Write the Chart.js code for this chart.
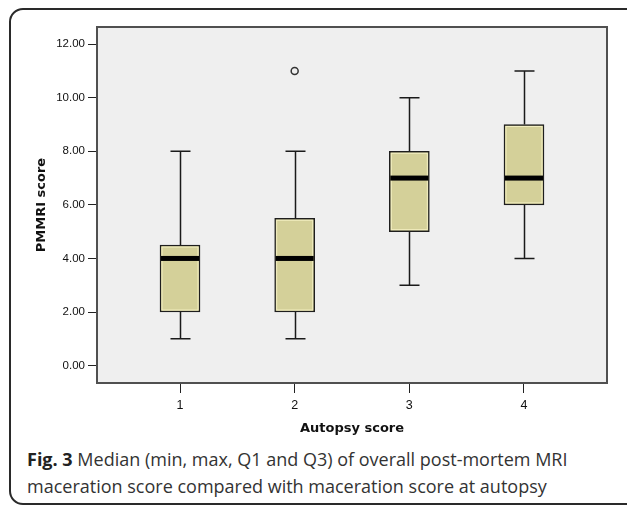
<!DOCTYPE html>
<html><head><meta charset="utf-8">
<script src="https://cdn.jsdelivr.net/npm/chart.js@4.4.1/dist/chart.umd.min.js"></script>
<style>
html,body{margin:0;padding:0;background:#fff;width:627px;height:507px;overflow:hidden;}
#frame{position:absolute;left:9px;top:8px;width:640px;height:497px;border:2px solid #2a2a2a;border-radius:14px;box-sizing:border-box;}
#wrap{position:absolute;left:0;top:0;width:627px;height:507px;}
#cap{position:absolute;left:27px;top:446px;font-family:"Open Sans";font-size:18px;line-height:27px;color:#333;white-space:nowrap;}
#cap b{color:#222;font-weight:700;}
</style></head><body>
<div id="frame"></div>
<div id="cap"><b>Fig. 3</b> Median (min, max, Q1 and Q3) of overall post-mortem MRI<br>maceration score compared with maceration score at autopsy</div>
<div id="wrap"><canvas id="c" width="627" height="507"></canvas></div>
<script>
const categories = ['1', '2', '3', '4'];
const catPositions = [1, 2, 3, 4];
const mins = [1, 1, 3, 4];
const q1s = [2, 2, 5, 6];
const medians = [4, 4, 7, 7];
const q3s = [4.5, 5.5, 8, 9];
const maxs = [8, 8, 10, 11];
const outlierCats = [2];
const outlierValues = [11];
const yTicks = [0, 2, 4, 6, 8, 10, 12];

const BOX_W = 40, CAP_W = 20;

const boxPlugin = {
  id: 'boxplot',
  beforeDraw(chart) {
    const {ctx, chartArea: a} = chart;
    ctx.save();
    ctx.fillStyle = '#efefef';
    ctx.fillRect(a.left, a.top, a.right - a.left, a.bottom - a.top);
    ctx.restore();
  },
  beforeDatasetsDraw(chart) {
    const {ctx, scales: {x, y}} = chart;
    ctx.save();
    ctx.strokeStyle = '#1a1a1a';
    ctx.lineWidth = 1.5;
    catPositions.forEach((c, i) => {
      const px = Math.round(x.getPixelForValue(c)) + 0.5;
      const yMax = y.getPixelForValue(maxs[i]);
      const yQ3 = y.getPixelForValue(q3s[i]);
      const yQ1 = y.getPixelForValue(q1s[i]);
      const yMin = y.getPixelForValue(mins[i]);
      ctx.beginPath();
      ctx.moveTo(px, yMax); ctx.lineTo(px, yQ3);
      ctx.moveTo(px, yQ1); ctx.lineTo(px, yMin);
      ctx.moveTo(px - CAP_W / 2, yMax); ctx.lineTo(px + CAP_W / 2, yMax);
      ctx.moveTo(px - CAP_W / 2, yMin); ctx.lineTo(px + CAP_W / 2, yMin);
      ctx.stroke();
    });
    ctx.restore();
  },
  afterDatasetsDraw(chart) {
    const {ctx, chartArea: a, scales: {x, y}} = chart;
    ctx.save();
    catPositions.forEach((c, i) => {
      const px = x.getPixelForValue(c);
      const yQ3 = y.getPixelForValue(q3s[i]);
      const yQ1 = y.getPixelForValue(q1s[i]);
      const yMed = y.getPixelForValue(medians[i]);
      ctx.strokeStyle = '#f2eec0';
      ctx.lineWidth = 1;
      ctx.strokeRect(px - BOX_W / 2 + 2, yQ3 + 2, BOX_W - 4, yQ1 - yQ3 - 4);
      ctx.fillStyle = '#000';
      ctx.fillRect(px - BOX_W / 2 + 1, yMed - 2.5, BOX_W - 2, 5);
    });
    ctx.strokeStyle = '#505050';
    ctx.lineWidth = 2;
    ctx.strokeRect(a.left, a.top, a.right - a.left, a.bottom - a.top);
    ctx.restore();
  }
};

new Chart(document.getElementById('c'), {
  type: 'bar',
  data: {
    datasets: [
      {
        type: 'bar',
        data: catPositions.map((c, i) => ({x: c, y: [q1s[i], q3s[i]]})),
        backgroundColor: '#d4d099',
        borderColor: '#1e1e1e',
        borderWidth: 1.5,
        borderSkipped: false,
        barThickness: BOX_W
      },
      {
        type: 'scatter',
        data: outlierCats.map((c, i) => ({x: c, y: outlierValues[i]})),
        pointRadius: 3.5,
        pointStyle: 'circle',
        borderColor: '#333',
        borderWidth: 1.5,
        backgroundColor: 'rgba(0,0,0,0)'
      }
    ]
  },
  options: {
    responsive: false,
    animation: false,
    layout: {padding: {left: 0, top: 27, right: 20, bottom: 64}},
    plugins: {legend: {display: false}, tooltip: {enabled: false}},
    scales: {
      x: {
        type: 'linear',
        offset: false,
        min: 0.276,
        max: 4.724,
        afterFit(s) { s.height = 60; },
        afterBuildTicks(s) { s.ticks = catPositions.map(v => ({value: v})); },
        grid: {offset: false, drawOnChartArea: false, drawTicks: true, tickLength: 10, color: '#222'},
        border: {display: false},
        ticks: {
          padding: 5,
          color: '#111',
          font: {family: 'Liberation Sans', size: 12.5},
          callback: v => categories[catPositions.indexOf(v)]
        },
        title: {
          display: true,
          text: 'Autopsy score',
          color: '#111',
          font: {family: 'DejaVu Sans', size: 13, weight: 'bold'},
          padding: {top: 0, bottom: 7}
        }
      },
      y: {
        min: -0.65,
        max: 12.64,
        afterFit(s) { s.width = 97; },
        afterBuildTicks(s) { s.ticks = yTicks.map(v => ({value: v})); },
        grid: {drawOnChartArea: false, drawTicks: true, tickLength: 9, color: '#222'},
        border: {display: false},
        ticks: {
          padding: 3,
          color: '#111',
          font: {family: 'Liberation Sans', size: 11.5},
          callback: v => v.toFixed(2)
        },
        title: {
          display: true,
          text: 'PMMRI score',
          color: '#111',
          font: {family: 'DejaVu Sans', size: 13, weight: 'bold'},
          padding: {top: 34, bottom: 0}
        }
      }
    }
  },
  plugins: [boxPlugin]
});
</script>
</body></html>
